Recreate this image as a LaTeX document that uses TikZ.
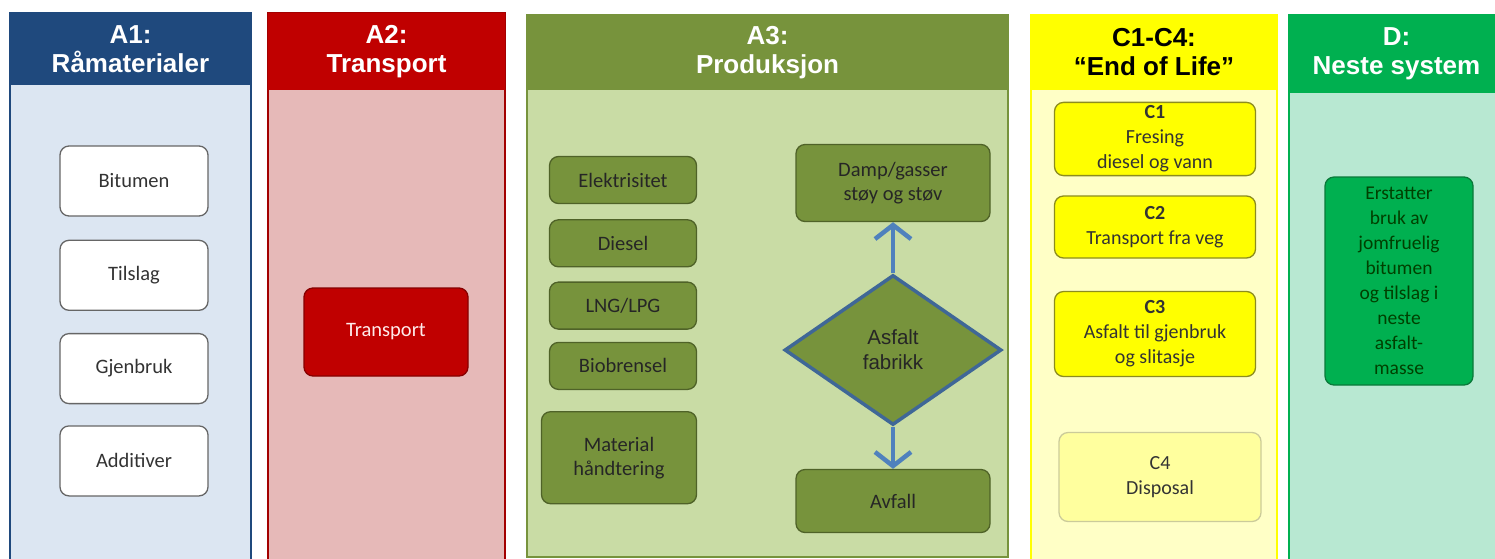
\documentclass[tikz,border=0pt]{standalone}
\usepackage{fontspec}
\setmainfont{Carlito}
\newfontfamily\headfont{Liberation Sans}
\usetikzlibrary{positioning,arrows.meta,shapes.geometric}

\definecolor{blueDark}{HTML}{1F497D}
\definecolor{blueLight}{HTML}{DCE6F2}
\definecolor{redDark}{HTML}{C00000}
\definecolor{redLight}{HTML}{E6B9B8}
\definecolor{oliveDark}{HTML}{77933C}
\definecolor{oliveLight}{HTML}{C9DCA5}
\definecolor{oliveLine}{HTML}{4F6228}
\definecolor{yelDark}{HTML}{FFFF00}
\definecolor{yelLight}{HTML}{FFFFC6}
\definecolor{yelPale}{HTML}{FFFF9E}
\definecolor{yelLine}{HTML}{8C8C1E}
\definecolor{grnDark}{HTML}{00B050}
\definecolor{grnLight}{HTML}{B8E8D2}
\definecolor{grnLine}{HTML}{0A7A3A}
\definecolor{steel}{HTML}{4F81BD}

\begin{document}
\begin{tikzpicture}
    [x=1pt,y=-1pt,
     panel/.style={rectangle,anchor=north west,inner sep=0pt,outer sep=0pt,line width=2.5pt},
     head/.style={rectangle,anchor=north west,inner sep=0pt,outer sep=0pt,align=center,
       font=\headfont\bfseries\fontsize{26}{29}\selectfont},
     box/.style={rectangle,rounded corners=9pt,draw,line width=1.3pt,align=center,
       font=\fontsize{20.5}{24}\selectfont},
     wbox/.style={box,fill=white,draw=gray!80!black,text=black!80,minimum width=148pt,minimum height=70pt},
     gbox/.style={box,fill=oliveDark,draw=oliveLine,text=black!85,minimum width=147pt,minimum height=47pt},
     ybox/.style={box,fill=yelDark,draw=yelLine,text=black!80,minimum width=201pt,
       font=\fontsize{20}{25}\selectfont},
     arr/.style={-{Straight Barb[length=14pt,width=36pt]},line width=4.5pt,draw=steel}]

    \clip (0,0) rectangle (1495,558);
    \fill[white] (0,0) rectangle (1495,558);

    % panels
    \node[panel,draw=blueDark,fill=blueLight,minimum width=241pt,minimum height=560pt] (a1) at (10,13) {};
    \node[head,fill=blueDark,text=white,minimum width=241pt,minimum height=72pt] (a1h) at (10,13) {A1:\\Råmaterialer};

    \node[panel,draw=redDark!85!black,fill=redLight,minimum width=237pt,minimum height=560pt] (a2) at (268,13) {};
    \node[head,fill=redDark,text=white,minimum width=237pt,minimum height=77pt] (a2h) at (268,13) {A2:\\Transport};

    \node[panel,draw=oliveDark,fill=oliveLight,minimum width=481pt,minimum height=542pt] (a3) at (527,15) {};
    \node[head,fill=oliveDark,text=white,minimum width=481pt,minimum height=75pt] (a3h) at (527,15) {A3:\\Produksjon};

    \node[panel,draw=yelDark,fill=yelLight,minimum width=246pt,minimum height=560pt] (c) at (1031,15) {};
    \node[head,fill=yelDark,text=black,minimum width=246pt,minimum height=75pt] (ch) at (1031,15) {C1-C4:\\“End of Life”};

    \node[panel,draw=grnDark,fill=grnLight,minimum width=215pt,minimum height=560pt] (d) at (1289,15) {};
    \node[head,fill=grnDark,text=white,minimum width=215pt,minimum height=78pt] (dh) at (1289,15) {D:\\Neste system};

    % A1
    \node[wbox] (bitumen) at (134,181) {Bitumen};
    \node[wbox,below=23pt of bitumen] (tilslag) {Tilslag};
    \node[wbox,below=22pt of tilslag] (gjenbruk) {Gjenbruk};
    \node[wbox,below=21pt of gjenbruk] (additiver) {Additiver};

    % A2
    \node[box,fill=redDark,draw=redDark!70!black,text=white!92!red,minimum width=164pt,minimum height=88pt] (transport) at (386,332) {Transport};

    % A3
    \node[gbox] (el) at (623,180) {Elektrisitet};
    \node[gbox,below=15pt of el] (diesel) {Diesel};
    \node[gbox,below=14pt of diesel] (lng) {LNG/LPG};
    \node[gbox,below=12pt of lng] (bio) {Biobrensel};
    \node[gbox,below=21pt of bio,xshift=-4pt,minimum width=155pt,minimum height=92pt] (material) {Material\\håndtering};

    \node[gbox,minimum width=194pt,minimum height=77pt] (damp) at (893,183) {Damp/gasser\\støy og støv};
    \node[diamond,fill=oliveDark,draw=steel!80!black,line width=3.5pt,inner sep=0pt,
      minimum width=217pt,minimum height=150pt,align=center,text=black!85,
      font=\headfont\fontsize{20.5}{25}\selectfont] (fabrikk) at (893,350) {Asfalt\\fabrikk};
    \node[gbox,minimum width=194pt,minimum height=63pt] (avfall) at (893,501) {Avfall};

    \draw[arr] (fabrikk.north) -- (damp.south);
    \draw[arr] (fabrikk.south) -- (avfall.north);

    % C1-C4
    \node[ybox,minimum height=72pt] (c1) at (1155,139) {\textbf{C1}\\Fresing\\diesel og vann};
    \node[ybox,minimum height=62pt] (c2) at (1155,227) {\textbf{C2}\\Transport fra veg};
    \node[ybox,minimum height=85pt] (c3) at (1155,334) {\textbf{C3}\\Asfalt til gjenbruk\\og slitasje};
    \node[ybox,fill=yelPale,draw=yelLine!45,minimum width=202pt,minimum height=89pt] (c4) at (1160,477) {C4\\Disposal};

    % D
    \node[box,fill=grnDark,draw=grnLine,text=green!25!black,minimum width=148pt,minimum height=208pt,
      font=\fontsize{19.5}{25}\selectfont] (erstatter) at (1399,281)
      {Erstatter\\bruk av\\jomfruelig\\bitumen\\og tilslag i\\neste\\asfalt-\\masse};
\end{tikzpicture}
\end{document}
